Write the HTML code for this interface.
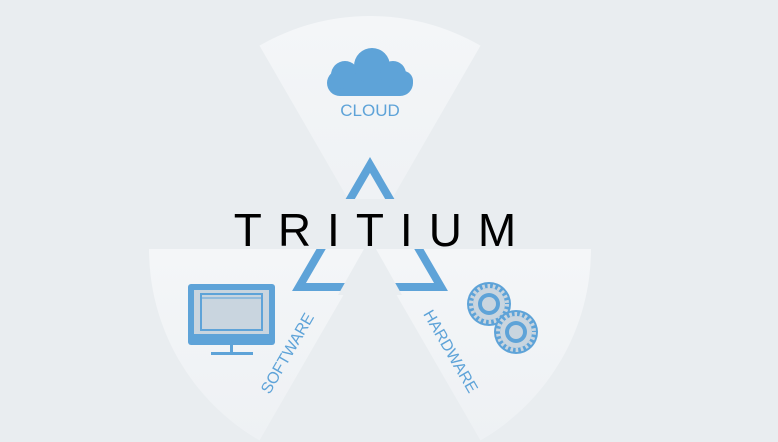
<!DOCTYPE html>
<html><head><style>
html,body{margin:0;padding:0;background:#e9edf0;width:778px;height:442px;overflow:hidden}
</style></head><body>
<svg width="778" height="442" viewBox="0 0 778 442" xmlns="http://www.w3.org/2000/svg">
<defs>
<linearGradient id="g" x1="0" y1="0" x2="0" y2="1"><stop offset="0" stop-color="#f4f6f8"/><stop offset="1" stop-color="#eef1f4"/></linearGradient>
<g id="gear">
<circle r="22" fill="#5ea3d8"/>
<circle r="18" fill="none" stroke="#c9d5df" stroke-width="4" stroke-dasharray="2.6 2.6"/>
<circle r="16" fill="#c9d5df"/>
<circle r="11" fill="#5ea3d8"/>
<circle r="7" fill="#c9d5df"/>
</g>
</defs>
<rect width="778" height="442" fill="#e9edf0"/>
<path d="M370 237 L259.5 45.6 A221 221 0 0 1 480.5 45.6 Z" fill="url(#g)"/>
<path d="M370 249 L149 249 A221 221 0 0 0 259.5 440.4 Z" fill="url(#g)"/>
<path d="M370 249 L591 249 A221 221 0 0 1 480.5 440.4 Z" fill="url(#g)"/>
<path d="M370 165 L299 287 L441 287 Z" fill="none" stroke="#5ea3d8" stroke-width="8" stroke-linejoin="miter"/>
<rect x="280" y="199" width="190" height="50" fill="#e9edf0"/>
<polygon points="364,249 376,249 402,295 338,295" fill="#e9edf0"/>
<text x="383" y="246" text-anchor="middle" font-family="Liberation Sans, sans-serif" font-size="46" letter-spacing="16" fill="#000">TRITIUM</text>
<g fill="#5ea3d8">
<rect x="327" y="70" width="86" height="26" rx="13"/>
<circle cx="345" cy="75" r="14"/>
<circle cx="372" cy="66" r="18"/>
<circle cx="393" cy="74" r="13"/>
<circle cx="403" cy="81" r="10"/>
</g>
<text x="370" y="116" text-anchor="middle" font-family="Liberation Sans, sans-serif" font-size="17" fill="#5ea3d8">CLOUD</text>
<rect x="188" y="284" width="87" height="61" rx="3" fill="#5ea3d8"/>
<rect x="194" y="290" width="75" height="44" fill="#c9d5df"/>
<rect x="201" y="294" width="61" height="36" fill="none" stroke="#5ea3d8" stroke-width="2"/>
<line x1="201" y1="298" x2="262" y2="298" stroke="#5ea3d8" stroke-width="1"/>
<rect x="230" y="345" width="3" height="8" fill="#5ea3d8"/>
<rect x="211" y="352" width="42" height="3" fill="#5ea3d8"/>
<text transform="translate(292,356) rotate(-60)" text-anchor="middle" font-family="Liberation Sans, sans-serif" font-size="16" fill="#5ea3d8">SOFTWARE</text>
<text transform="translate(446,354) rotate(60)" text-anchor="middle" font-family="Liberation Sans, sans-serif" font-size="16" fill="#5ea3d8">HARDWARE</text>
<use href="#gear" x="489" y="304"/>
<use href="#gear" x="516" y="332"/>
</svg>
</body></html>
